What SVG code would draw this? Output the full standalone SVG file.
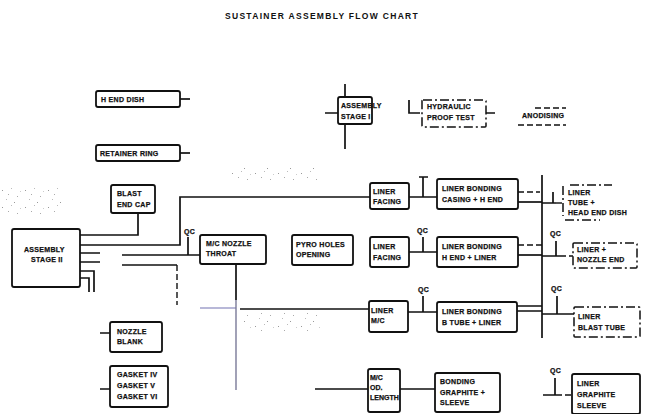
<svg xmlns="http://www.w3.org/2000/svg" width="646" height="414" viewBox="0 0 646 414">
<style>
  .bx{fill:none;stroke:#111;stroke-width:1.8;}
  .dbx{fill:none;stroke:#111;stroke-width:1.5;stroke-dasharray:9 3 2 3;}
  .t{font-family:"Liberation Sans",Arial,sans-serif;font-weight:bold;font-size:7px;fill:#111;stroke:#111;stroke-width:0.25;letter-spacing:0.3px;}
  .ttl{font-family:"Liberation Sans",Arial,sans-serif;font-weight:bold;font-size:8.5px;fill:#111;letter-spacing:1.3px;}
  .ln{fill:none;stroke:#111;stroke-width:1.7;}
  .dl{fill:none;stroke:#111;stroke-width:1.4;stroke-dasharray:6 3;}
  .lav{fill:none;stroke:#b8b8d8;stroke-width:1.8;}
  .lavd{fill:none;stroke:#7a7a98;stroke-width:1.4;}
</style>
<defs>
  <pattern id="speck" width="23" height="17" patternUnits="userSpaceOnUse">
    <rect x="2" y="3" width="1" height="1" fill="#999"/>
    <rect x="11" y="1" width="1" height="1" fill="#bbb"/>
    <rect x="17" y="9" width="1" height="1" fill="#aaa"/>
    <rect x="6" y="12" width="1" height="1" fill="#bbb"/>
    <rect x="14" y="15" width="1" height="1" fill="#999"/>
    <rect x="20" y="4" width="1" height="1" fill="#ccc"/>
    <rect x="8" y="7" width="1" height="1" fill="#aaa"/>
  </pattern>
</defs>
<rect width="646" height="414" fill="#fff"/>
<rect x="2" y="188" width="60" height="28" fill="url(#speck)"/>
<rect x="228" y="168" width="90" height="14" fill="url(#speck)"/>
<rect x="242" y="313" width="80" height="18" fill="url(#speck)"/>

<text class="ttl" x="322" y="19" text-anchor="middle">SUSTAINER ASSEMBLY FLOW CHART</text>

<g id="connectors">
  <path class="ln" d="M180,99 H190"/>
  <path class="ln" d="M180,153 H190"/>
  <path class="ln" d="M345,84 V97 M345,124 V149 M325,113 H338"/>
  <path class="ln" d="M409,100 V113 H420 M486,113 H495"/>
  <path class="dl" d="M535,108 H566 M518,125 H566"/>
  <path class="ln" d="M80,235 H138 V213"/>
  <path class="ln" d="M80,245 H180 V197 H370"/>
  <path class="ln" d="M80,253 H100 M80,262 H100"/>
  <path class="ln" d="M122,255 H200 M188,237 V255"/>
  <path class="ln" d="M122,265 H177"/>
  <path class="dl" d="M177,265 V305"/>
  <path class="ln" d="M80,271 H94 V292 M80,278 H89 V292"/>
  <path class="ln" d="M236,264 V300"/>
  <path class="lav" d="M200,308 H236"/>
  <path class="lavd" d="M236,300 V390"/>
  <path class="ln" d="M240,309 H369"/>
  <path class="ln" d="M409,197 H437 M423,177 V197 M419,177 H428"/>
  <path class="dl" d="M518,192 H540"/>
  <path class="ln" d="M518,202 H542"/>
  <path class="ln" d="M542,175 V338"/>
  <path class="ln" d="M542,203 H556 M553,192 V203"/>
  <path class="dl" d="M556,203 H563"/>
  <path class="ln" d="M409,252 H437 M423,237 V252"/>
  <path class="dl" d="M518,245 H542"/>
  <path class="ln" d="M518,255 H542"/>
  <path class="ln" d="M542,256 H560 M556,241 V256"/>
  <path class="dl" d="M560,256 H573"/>
  <path class="ln" d="M408,312 H437 M423,296 V312"/>
  <path class="ln" d="M517,306 H542 M517,311 H542"/>
  <path class="ln" d="M542,314 H574 M557,296 V314"/>
  <path class="ln" d="M315,389 H368 M400,389 H435"/>
  <path class="ln" d="M543,395 H562 M565,395 H571 M555,378 V395"/>
  <path class="ln" d="M100,333 H110 M100,389 H110"/>
</g>

<g id="qc-labels">
  <text class="t" x="184" y="234">QC</text>
  <text class="t" x="417" y="233">QC</text>
  <text class="t" x="550" y="236">QC</text>
  <text class="t" x="418" y="292">QC</text>
  <text class="t" x="551" y="291">QC</text>
  <text class="t" x="550" y="373">QC</text>
</g>

<g id="h-end-dish"><rect class="bx" x="96" y="91" width="84" height="16" rx="2"/><text class="t" x="101" y="102">H  END  DISH</text></g>
<g id="retainer-ring"><rect class="bx" x="96" y="145" width="84" height="16" rx="2"/><text class="t" x="100" y="156">RETAINER  RING</text></g>
<g id="assembly-stage-1"><rect class="bx" x="338" y="97" width="34" height="27" rx="2"/><text class="t" x="341" y="108">ASSEMBLY</text><text class="t" x="341" y="119">STAGE  I</text></g>
<g id="hydraulic"><rect class="dbx" x="422" y="100" width="64" height="27" rx="1"/><text class="t" x="427" y="109">HYDRAULIC</text><text class="t" x="427" y="120">PROOF  TEST</text></g>
<g id="anodising"><text class="t" x="522" y="118">ANODISING</text></g>
<g id="blast-end-cap"><rect class="bx" x="111" y="185" width="44" height="28" rx="2"/><text class="t" x="117" y="196">BLAST</text><text class="t" x="117" y="207">END  CAP</text></g>
<g id="assembly-stage-2"><rect class="bx" x="12" y="229" width="68" height="58" rx="2"/><text class="t" x="24" y="252">ASSEMBLY</text><text class="t" x="31" y="262">STAGE  II</text></g>
<g id="mc-nozzle-throat"><rect class="bx" x="200" y="235" width="66" height="29" rx="2"/><text class="t" x="206" y="246">M/C  NOZZLE</text><text class="t" x="206" y="256">THROAT</text></g>
<g id="pyro-holes"><rect class="bx" x="292" y="235" width="61" height="30" rx="2"/><text class="t" x="296" y="247">PYRO  HOLES</text><text class="t" x="296" y="257">OPENING</text></g>
<g id="liner-facing-1"><rect class="bx" x="370" y="183" width="39" height="26" rx="2"/><text class="t" x="373" y="194">LINER</text><text class="t" x="373" y="204">FACING</text></g>
<g id="liner-facing-2"><rect class="bx" x="370" y="237" width="39" height="30" rx="2"/><text class="t" x="373" y="249">LINER</text><text class="t" x="373" y="260">FACING</text></g>
<g id="liner-bonding-1"><rect class="bx" x="437" y="179" width="81" height="30" rx="2"/><text class="t" x="442" y="191">LINER  BONDING</text><text class="t" x="442" y="202">CASING  + H END</text></g>
<g id="liner-bonding-2"><rect class="bx" x="437" y="237" width="81" height="30" rx="2"/><text class="t" x="442" y="249">LINER  BONDING</text><text class="t" x="442" y="260">H  END  + LINER</text></g>
<g id="liner-tube"><path class="dbx" d="M563,186 V216 M570,185 H612 M565,220 H600"/><text class="t" x="568" y="195">LINER</text><text class="t" x="568" y="205">TUBE  +</text><text class="t" x="568" y="215">HEAD  END  DISH</text></g>
<g id="liner-nozzle-end"><rect class="dbx" x="573" y="243" width="64" height="25" rx="1"/><text class="t" x="577" y="252">LINER       +</text><text class="t" x="577" y="262">NOZZLE  END</text></g>
<g id="liner-mc"><rect class="bx" x="369" y="301" width="39" height="31" rx="2"/><text class="t" x="371" y="313">LINER</text><text class="t" x="371" y="323">M/C</text></g>
<g id="liner-bonding-3"><rect class="bx" x="437" y="302" width="80" height="30" rx="2"/><text class="t" x="442" y="314">LINER  BONDING</text><text class="t" x="442" y="325">B  TUBE  + LINER</text></g>
<g id="liner-blast-tube"><rect class="dbx" x="574" y="307" width="66" height="30" rx="1"/><text class="t" x="578" y="319">LINER</text><text class="t" x="578" y="330">BLAST  TUBE</text></g>
<g id="mc-od-length"><rect class="bx" x="368" y="369" width="32" height="43" rx="2"/><text class="t" x="370" y="380" style="letter-spacing:0">M/C</text><text class="t" x="370" y="390" style="letter-spacing:0">OD.</text><text class="t" x="370" y="400" style="letter-spacing:0">LENGTH</text></g>
<g id="bonding-graphite-sleeve"><rect class="bx" x="435" y="373" width="65" height="39" rx="2"/><text class="t" x="440" y="384">BONDING</text><text class="t" x="440" y="395">GRAPHITE +</text><text class="t" x="440" y="405">SLEEVE</text></g>
<g id="liner-graphite-sleeve"><rect class="bx" x="572" y="374" width="68" height="40" rx="2"/><text class="t" x="577" y="386">LINER</text><text class="t" x="577" y="397">GRAPHITE</text><text class="t" x="577" y="408">SLEEVE</text></g>
<g id="nozzle-blank"><rect class="bx" x="110" y="322" width="52" height="30" rx="2"/><text class="t" x="117" y="334">NOZZLE</text><text class="t" x="117" y="344">BLANK</text></g>
<g id="gaskets"><rect class="bx" x="110" y="366" width="58" height="41" rx="2"/><text class="t" x="117" y="377">GASKET  IV</text><text class="t" x="117" y="388">GASKET  V</text><text class="t" x="117" y="399">GASKET  VI</text></g>
</svg>
